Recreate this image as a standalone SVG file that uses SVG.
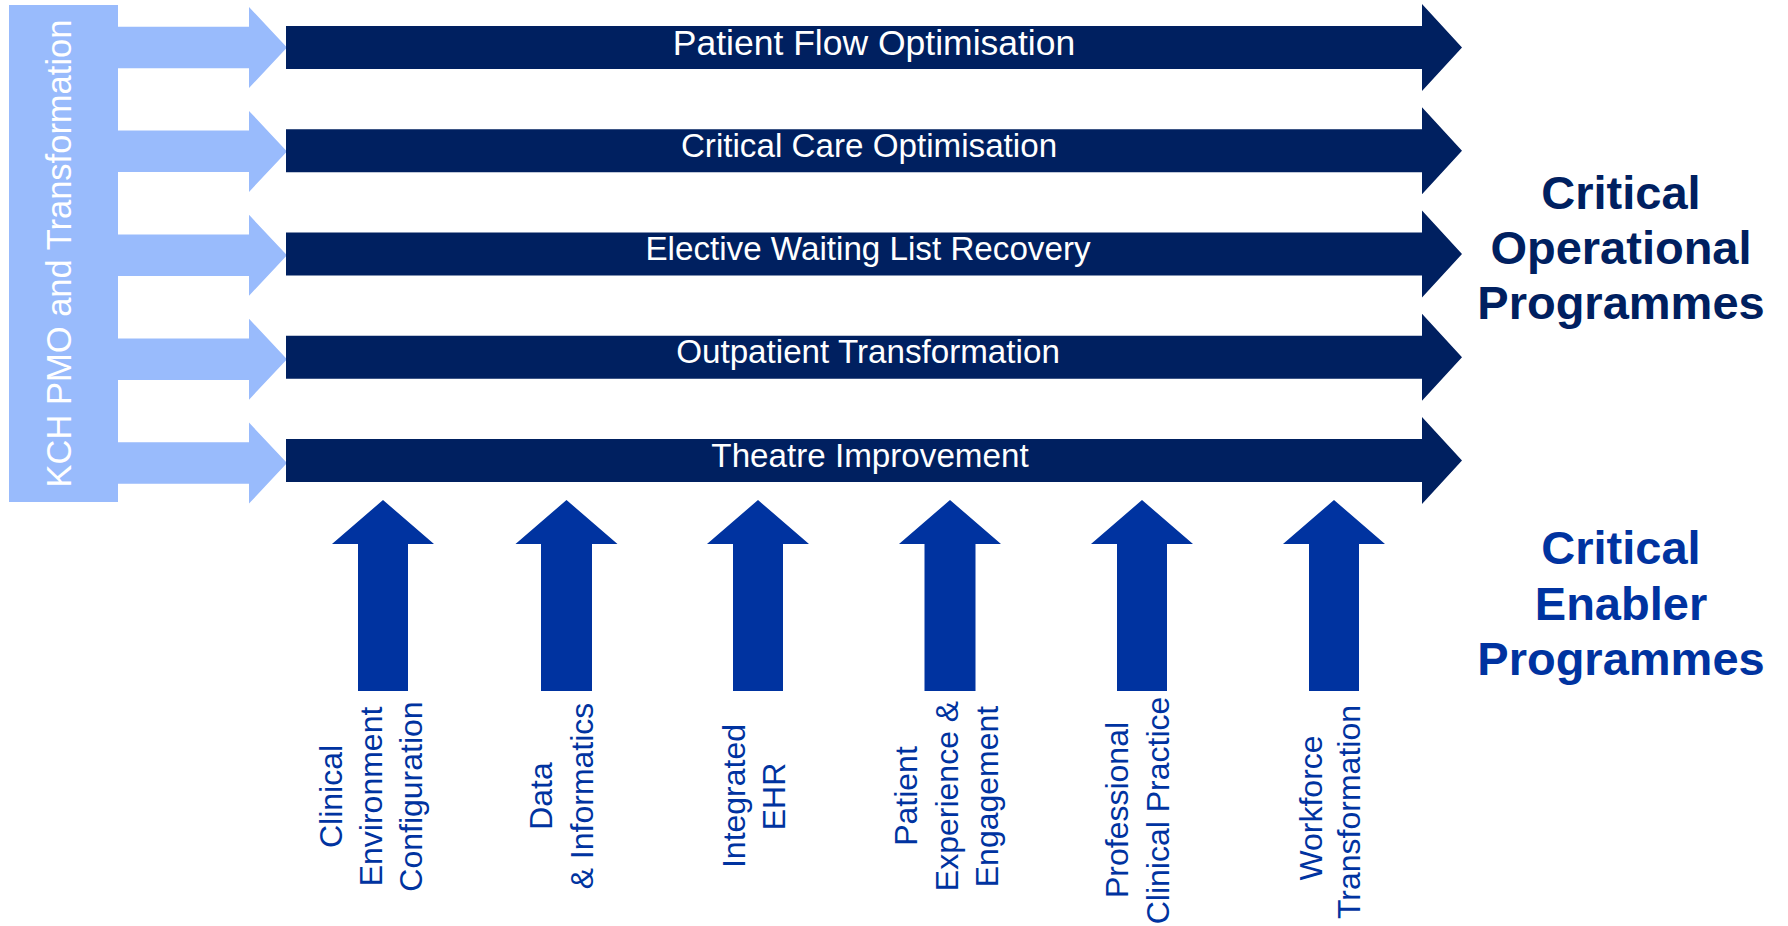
<svg xmlns="http://www.w3.org/2000/svg" width="1788" height="926" viewBox="0 0 1788 926">
  <style>
    .pmo { fill: #99BBFC; }
    .op { fill: #002060; }
    .en { fill: #0033A0; }
    .t-white { fill: #FFFFFF; font-family: "Liberation Sans", Arial, sans-serif; }
    .t-bar { font-size: 33.2px; text-anchor: middle; }
    .t-en { fill: #0033A0; font-family: "Liberation Sans", Arial, sans-serif; font-size: 32px; text-anchor: middle; }
    .t-head { font-family: "Liberation Sans", Arial, sans-serif; font-size: 47px; font-weight: bold; text-anchor: middle; }
  </style>

  <!-- KCH PMO block with its feeder arrows -->
  <g id="pmo">
    <rect class="pmo" x="9" y="5" width="109" height="497"/>
    <text class="t-white" font-size="34.5" text-anchor="middle" transform="translate(71,253.5) rotate(-90)">KCH PMO and Transformation</text>
  </g>

  <g id="connectors">
    <polygon class="pmo" points="116,26.75 249,26.75 249,7 287,47.5 249,88 249,68.25 116,68.25"/>
    <polygon class="pmo" points="116,130.6 249,130.6 249,110.9 287,151.4 249,191.9 249,172.1 116,172.1"/>
    <polygon class="pmo" points="116,234.5 249,234.5 249,214.8 287,255.3 249,295.8 249,276 116,276"/>
    <polygon class="pmo" points="116,338.4 249,338.4 249,318.7 287,359.2 249,399.7 249,379.9 116,379.9"/>
    <polygon class="pmo" points="116,442.3 249,442.3 249,422.6 287,463.1 249,503.6 249,483.8 116,483.8"/>
  </g>

  <!-- Critical operational programmes -->
  <g id="op-patient-flow">
    <polygon class="op" points="286,26 1422,26 1422,4 1462,47.5 1422,91 1422,69 286,69"/>
    <text class="t-white" font-size="35.5" text-anchor="middle" x="874" y="54.5">Patient Flow Optimisation</text>
  </g>
  <g id="op-critical-care">
    <polygon class="op" points="286,129.25 1422,129.25 1422,107.25 1462,150.75 1422,194.25 1422,172.25 286,172.25"/>
    <text class="t-white t-bar" x="869" y="157">Critical Care Optimisation</text>
  </g>
  <g id="op-elective">
    <polygon class="op" points="286,232.5 1422,232.5 1422,210.5 1462,254 1422,297.5 1422,275.5 286,275.5"/>
    <text class="t-white t-bar" x="868" y="260">Elective Waiting List Recovery</text>
  </g>
  <g id="op-outpatient">
    <polygon class="op" points="286,335.75 1422,335.75 1422,313.75 1462,357.25 1422,400.75 1422,378.75 286,378.75"/>
    <text class="t-white t-bar" x="868" y="363">Outpatient Transformation</text>
  </g>
  <g id="op-theatre">
    <polygon class="op" points="286,439 1422,439 1422,417 1462,460.5 1422,504 1422,482 286,482"/>
    <text class="t-white t-bar" x="870" y="466.5">Theatre Improvement</text>
  </g>

  <!-- Critical enabler programmes -->
  <g id="en-clinical-environment">
    <polygon class="en" points="358,691 358,544 332,544 383,500 434,544 408,544 408,691"/>
    <text class="t-en" transform="translate(342,796.5) rotate(-90)">Clinical</text>
    <text class="t-en" transform="translate(382,796.5) rotate(-90)">Environment</text>
    <text class="t-en" transform="translate(422,796.5) rotate(-90)">Configuration</text>
  </g>
  <g id="en-data">
    <polygon class="en" points="541,691 541,544 515.5,544 566.5,500 617.5,544 592,544 592,691"/>
    <text class="t-en" transform="translate(552,796) rotate(-90)">Data</text>
    <text class="t-en" transform="translate(593,796) rotate(-90)">&amp; Informatics</text>
  </g>
  <g id="en-ehr">
    <polygon class="en" points="733,691 733,544 707,544 758,500 809,544 783,544 783,691"/>
    <text class="t-en" transform="translate(745,796) rotate(-90)">Integrated</text>
    <text class="t-en" transform="translate(785,796.5) rotate(-90)">EHR</text>
  </g>
  <g id="en-patient-experience">
    <polygon class="en" points="924.5,691 924.5,544 899,544 950,500 1001,544 975.5,544 975.5,691"/>
    <text class="t-en" transform="translate(917,796) rotate(-90)">Patient</text>
    <text class="t-en" transform="translate(958,796) rotate(-90)">Experience &amp;</text>
    <text class="t-en" transform="translate(998,796.5) rotate(-90)">Engagement</text>
  </g>
  <g id="en-professional-practice">
    <polygon class="en" points="1117,691 1117,544 1091,544 1142,500 1193,544 1167,544 1167,691"/>
    <text class="t-en" transform="translate(1128,810) rotate(-90)">Professional</text>
    <text class="t-en" transform="translate(1169,810.5) rotate(-90)">Clinical Practice</text>
  </g>
  <g id="en-workforce">
    <polygon class="en" points="1309,691 1309,544 1283,544 1334,500 1385,544 1359,544 1359,691"/>
    <text class="t-en" transform="translate(1322,808) rotate(-90)">Workforce</text>
    <text class="t-en" transform="translate(1360,812) rotate(-90)">Transformation</text>
  </g>

  <!-- Side headings -->
  <g id="label-operational">
    <text class="t-head" fill="#002060" x="1621" y="209">Critical</text>
    <text class="t-head" fill="#002060" x="1621" y="264">Operational</text>
    <text class="t-head" fill="#002060" x="1621" y="319">Programmes</text>
  </g>
  <g id="label-enabler">
    <text class="t-head" fill="#0033A0" x="1621" y="564">Critical</text>
    <text class="t-head" fill="#0033A0" x="1621" y="619.5">Enabler</text>
    <text class="t-head" fill="#0033A0" x="1621" y="675">Programmes</text>
  </g>
</svg>
